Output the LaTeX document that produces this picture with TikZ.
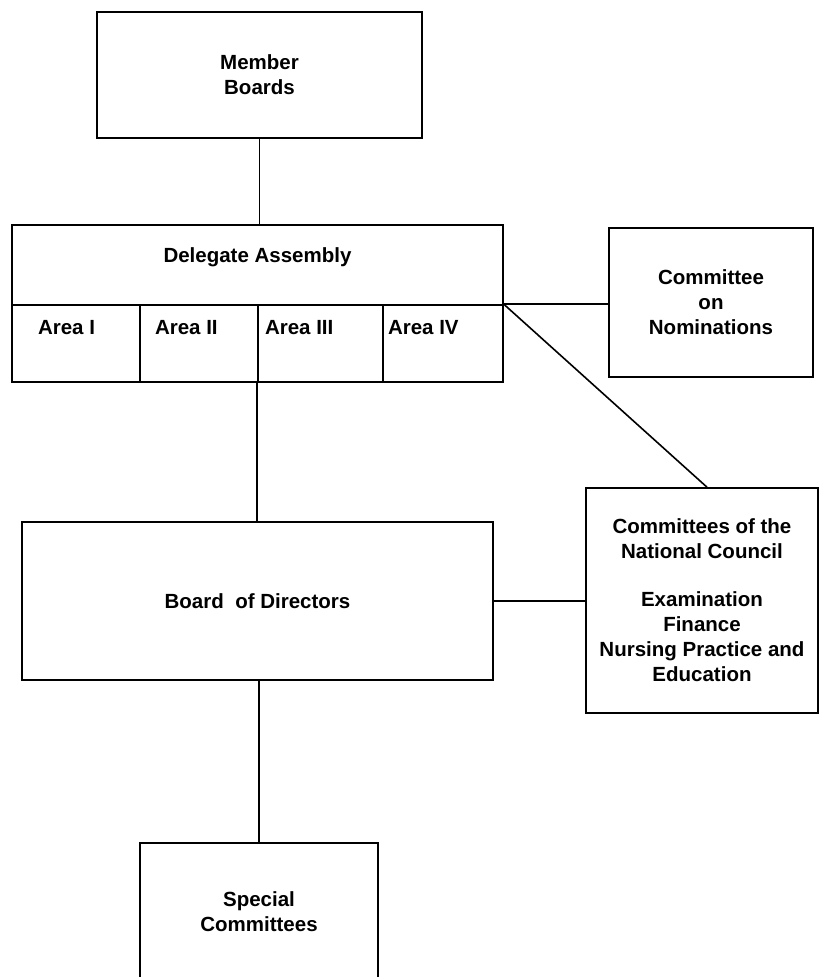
\documentclass[tikz,border=0pt]{standalone}
\usepackage{fontspec}
\setmainfont{Liberation Sans}
\usetikzlibrary{positioning}

\begin{document}
\begin{tikzpicture}[x=1pt,y=-1pt,line width=1.6pt]
	\tikzset{box/.style={rectangle, draw=black, inner sep=0pt}}
	\tikzset{lbl/.style={font=\fontsize{20.5}{25}\selectfont\bfseries, align=center, inner sep=0pt}}
	\useasboundingbox[fill=white] (0,0) rectangle (821,977);
	\node[box, lbl, minimum width=325, minimum height=126] (mboards) at (259.5,75) {Member\\Boards};
	% delegate assembly with its four areas
	\node[box, minimum width=491, minimum height=80] (dele) at (257.5,265) {};
	\node[lbl, below=23pt of dele.north] (deletext) {Delegate Assembly};
	\node[box, minimum width=128, minimum height=77] (area1) at (76,343.5) {};
	\node[box, minimum width=118, minimum height=77] (area2) at (199,343.5) {};
	\node[box, minimum width=125, minimum height=77] (area3) at (320.5,343.5) {};
	\node[box, minimum width=120, minimum height=77] (area4) at (443,343.5) {};
	\node[lbl, below right=15pt and 26pt of area1.north west] (a1text) {Area I};
	\node[lbl, below right=15pt and 15pt of area2.north west] (a2text) {Area II};
	\node[lbl, below right=15pt and 7pt of area3.north west] (a3text) {Area III};
	\node[lbl, below right=15pt and 5pt of area4.north west] (a4text) {Area IV};
	\node[box, lbl, minimum width=204, minimum height=149] (nom) at (711,302.5) {Committee\\on\\Nominations};
	\node[box, lbl, minimum width=232, minimum height=225] (ncouncil) at (702,600.5)
		{Committees of the\\National Council\\[23pt]Examination\\Finance\\Nursing Practice and\\Education};
	\node[box, lbl, minimum width=471, minimum height=158] (bod) at (257.5,601) {Board~~of Directors};
	\node[box, lbl, minimum width=238, minimum height=138] (special) at (259,912) {Special\\Committees};
	% connectors
	\draw (mboards.south) -- (mboards.south |- dele.north);
	\draw (area3.south west) -- (area3.south west |- bod.north);
	\draw (special.north) -- (special.north |- bod.south);
	\draw (area4.north east) -- (area4.north east -| nom.west);
	\draw (area4.north east) -- ([xshift=5pt]ncouncil.north);
	\draw (bod.east) -- (bod.east -| ncouncil.west);
\end{tikzpicture}
\end{document}
